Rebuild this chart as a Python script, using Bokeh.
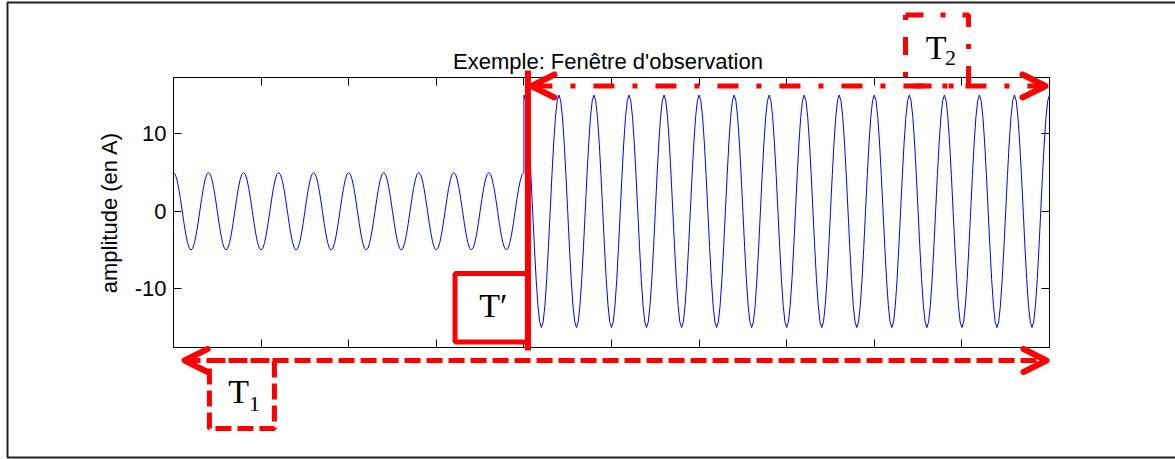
import numpy as np
from bokeh.plotting import figure
from bokeh.models import (LinearAxis, FixedTicker, Range1d, Label, Arrow,
                          OpenHead, BoxAnnotation, CustomJSTickFormatter)
from bokeh.embed import file_html
from bokeh.resources import INLINE

# ---------------- data ----------------
SEGMENT_EDGES_S = [0.0, 0.2, 0.5]          # time limits of the two regimes
SEGMENT_AMPLITUDES_A = [5.0, 15.0]         # amplitude before / after the step
FREQUENCY_HZ = 50.0                        # one period = 0.02 s
SAMPLE_RATE_HZ = 1000.0
X_LIMITS = [0.0, 0.5]
Y_LIMITS = [-17.57, 17.26]
X_TICKS = [0.0, 0.05, 0.1, 0.15, 0.2, 0.25, 0.3, 0.35, 0.4, 0.45, 0.5]
Y_TICKS = [-10, 0, 10]
Y_TICK_LABELS = ["-10", "0", "10"]
TITLE = "Exemple: Fenêtre d'observation"
Y_LABEL = "amplitude (en A)"

# sampled signal (cosine of the given amplitude in each regime)
t_parts, y_parts = [], []
for amp, t0, t1 in zip(SEGMENT_AMPLITUDES_A, SEGMENT_EDGES_S[:-1], SEGMENT_EDGES_S[1:]):
    n = int(round((t1 - t0) * SAMPLE_RATE_HZ)) + 1
    tt = np.linspace(t0, t1, n)
    t_parts.append(tt)
    y_parts.append(amp * np.cos(2 * np.pi * FREQUENCY_HZ * tt))
t_all = np.concatenate(t_parts)
y_all = np.concatenate(y_parts)

SANS = "Liberation Sans"
SERIF = "Liberation Serif"
RED = "#FF0000"

# the frame covers the whole canvas; the MATLAB-like axes box is drawn
# with axes fixed at the data limits so that annotations can sit around it
p = figure(width=1175, height=459, output_backend="svg", toolbar_location=None,
           x_range=Range1d(-0.098744, 0.571918), y_range=Range1d(-32.026, 27.2),
           min_border_left=0, min_border_right=0, min_border_top=0,
           min_border_bottom=0, background_fill_color="white",
           border_fill_color="white")
p.grid.visible = False
p.outline_line_color = None

p.line(t_all, y_all, line_color="#0000FF", line_width=1)

def style_axis(ax, ticks, loc, bounds, labels=None):
    ax.fixed_location = loc
    ax.bounds = tuple(bounds)
    ax.ticker = FixedTicker(ticks=ticks)
    ax.major_tick_in = 8
    ax.major_tick_out = 0
    ax.minor_tick_in = 0
    ax.minor_tick_out = 0
    ax.axis_line_color = "black"
    ax.axis_line_width = 1
    ax.major_tick_line_color = "black"
    if labels is None:
        ax.formatter = CustomJSTickFormatter(code="return ''")
        ax.major_label_standoff = 0
    else:
        ax.major_label_overrides = {k: v for k, v in zip(ticks, labels)}
        ax.major_label_text_font = SANS
        ax.major_label_text_font_size = "22px"
        ax.major_label_text_color = "black"
        ax.major_label_standoff = 7

style_axis(p.xaxis[0], X_TICKS, Y_LIMITS[0], X_LIMITS)
style_axis(p.yaxis[0], Y_TICKS, X_LIMITS[0], Y_LIMITS, Y_TICK_LABELS)
p.yaxis[0].axis_label = Y_LABEL
p.yaxis[0].axis_label_text_font = SANS
p.yaxis[0].axis_label_text_font_size = "22px"
p.yaxis[0].axis_label_text_font_style = "normal"
p.yaxis[0].axis_label_text_color = "black"
p.yaxis[0].axis_label_standoff = 10

top_ax = LinearAxis()
style_axis(top_ax, X_TICKS, Y_LIMITS[1], X_LIMITS)
p.add_layout(top_ax, "above")
right_ax = LinearAxis()
style_axis(right_ax, Y_TICKS, X_LIMITS[1], Y_LIMITS)
p.add_layout(right_ax, "right")

# title
p.add_layout(Label(x=0.248, y=19.33, text=TITLE, text_align="center",
                   text_baseline="alphabetic", text_font=SANS,
                   text_font_size="22px", text_color="black"))

# outer frame of the figure
p.add_layout(BoxAnnotation(left=-0.09475, right=0.5748, top=26.94, bottom=-31.77,
                           fill_alpha=0, line_color="#222222", line_alpha=1,
                           line_width=2))

def head():
    return OpenHead(size=23, line_color=RED, line_width=6,
                    line_cap="round", line_join="round")

# T1 : whole record (dashed)
p.add_layout(BoxAnnotation(left=0.0205, right=0.0576, top=-19.25, bottom=-28.03,
                           fill_alpha=0, line_color=RED, line_alpha=1,
                           line_width=5, line_dash="16 6"))
p.add_layout(Arrow(x_start=0.0063, y_start=-19.25, x_end=0.4983, y_end=-19.25,
                   start=head(), end=head(), line_color=RED, line_width=5,
                   line_dash="16 6"))
p.add_layout(Label(x=0.0372, y=-23.25, text="T", text_align="center",
                   text_baseline="middle", text_font=SERIF,
                   text_font_size="34px", text_color="black"))
p.add_layout(Label(x=0.0462, y=-24.85, text="1", text_align="center",
                   text_baseline="middle", text_font=SERIF,
                   text_font_size="22px", text_color="black"))

# T2 : observation window (dash-dot)
p.add_layout(BoxAnnotation(left=0.4178, right=0.4538, top=25.33, bottom=16.17,
                           fill_alpha=0, line_color=RED, line_alpha=1,
                           line_width=5, line_dash="18 17 5 17"))
p.add_layout(Arrow(x_start=0.2043, y_start=16.17, x_end=0.4977, y_end=16.17,
                   start=head(), end=head(), line_color=RED, line_width=5,
                   line_dash="21 18 5 18"))
p.add_layout(Label(x=0.4353, y=21.17, text="T", text_align="center",
                   text_baseline="middle", text_font=SERIF,
                   text_font_size="34px", text_color="black"))
p.add_layout(Label(x=0.4435, y=19.73, text="2", text_align="center",
                   text_baseline="middle", text_font=SERIF,
                   text_font_size="22px", text_color="black"))

# T' : switching instant (solid)
p.add_layout(BoxAnnotation(left=0.1607, right=0.2023, top=-8.03, bottom=-16.86,
                           fill_color="white", fill_alpha=1, line_color=RED,
                           line_alpha=1, line_width=5))
p.add_layout(Arrow(x_start=0.2023, y_start=18.17, x_end=0.2023, y_end=-17.96,
                   start=None, end=None, line_color=RED, line_width=6))
p.add_layout(Label(x=0.1826, y=-12.15, text="T\u2032", text_align="center",
                   text_baseline="middle", text_font=SERIF,
                   text_font_size="34px", text_color="black"))

open("out.html", "w").write(file_html(p, INLINE))
